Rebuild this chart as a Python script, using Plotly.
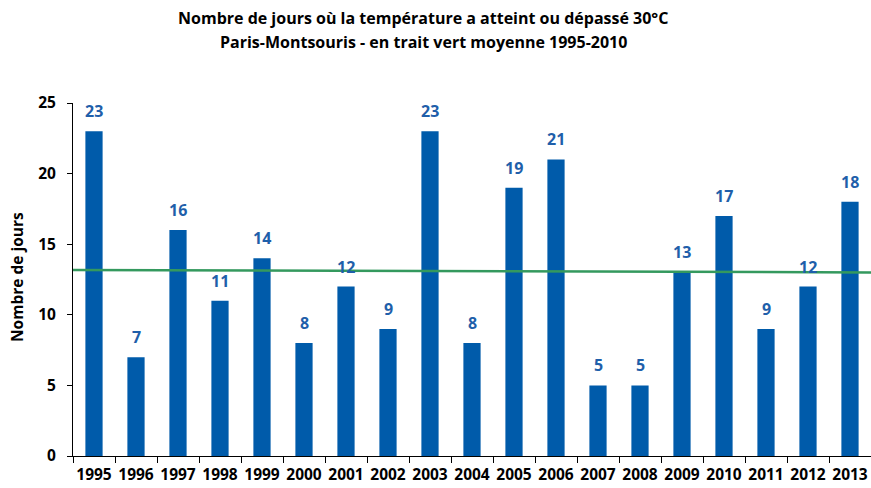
import plotly.graph_objects as go

years = ["1995", "1996", "1997", "1998", "1999", "2000", "2001", "2002", "2003", "2004",
         "2005", "2006", "2007", "2008", "2009", "2010", "2011", "2012", "2013"]
days = [23, 7, 16, 11, 14, 8, 12, 9, 23, 8, 19, 21, 5, 5, 13, 17, 9, 12, 18]
trend_start = 13.17
trend_end = 13.0
y_ticks = [0, 5, 10, 15, 20, 25]
title_line1 = "Nombre de jours où la température a atteint ou dépassé 30°C"
title_line2 = "Paris-Montsouris - en trait vert moyenne 1995-2010"
y_title = "Nombre de jours"

FONT = "Open Sans"
W, H = 871, 488
L, R, T, B = 73, 0, 103, 32
plot_w = W - L - R
plot_h = H - T - B

fig = go.Figure()
fig.add_trace(go.Bar(
    x=years, y=days,
    marker=dict(color="#005BAA", line=dict(width=0)),
    hoverinfo="x+y",
))
fig.add_shape(type="line", xref="paper", yref="y", x0=0, x1=1,
              y0=trend_start, y1=trend_end,
              line=dict(color="#34995E", width=2.5))

for i, v in enumerate(days):
    fig.add_annotation(x=i, y=v, xref="x", yref="y", text=str(v),
                       showarrow=False, yanchor="bottom", yshift=7,
                       font=dict(family=FONT, size=16, color="#1F5FAA", weight="bold"))

title_cx = (423 - L) / plot_w
for txt, py in [(title_line1, 18), (title_line2, 42)]:
    fig.add_annotation(x=title_cx, y=1 + (T - py) / plot_h, xref="paper", yref="paper",
                       text=txt, showarrow=False, xanchor="center", yanchor="middle",
                       font=dict(family=FONT, size=16, color="black", weight="bold"))

fig.add_annotation(x=(17 - L) / plot_w, y=(H - B - 277) / plot_h, xref="paper", yref="paper",
                   text=y_title, textangle=-90, showarrow=False,
                   xanchor="center", yanchor="middle",
                   font=dict(family=FONT, size=15.5, color="black", weight="bold"))

fig.update_layout(
    width=W, height=H,
    margin=dict(l=L, r=R, t=T, b=B),
    paper_bgcolor="white", plot_bgcolor="white",
    bargap=0.59,
    showlegend=False,
    font=dict(family=FONT, color="black"),
)
fig.update_xaxes(
    type="category", categoryorder="array", categoryarray=years,
    range=[-0.5, len(years) - 0.5],
    showline=True, linecolor="black", linewidth=1,
    ticks="outside", tickson="boundaries", ticklen=6, tickcolor="black",
    tickfont=dict(family=FONT, size=15.5, color="black", weight="bold"),
    ticklabelstandoff=4, automargin=False, tickangle=0,
    showgrid=False,
)
fig.update_yaxes(
    range=[0, 25], tickvals=y_ticks, showline=True, linecolor="black", linewidth=1,
    ticks="outside", ticklen=5, tickcolor="black",
    tickfont=dict(family=FONT, size=15.5, color="black", weight="bold"),
    ticklabelstandoff=8, automargin=False,
    showgrid=False, zeroline=False,
)

fig.write_html("out.html", config={"displayModeBar": False},
               post_script="document.body.style.margin='0px';")
